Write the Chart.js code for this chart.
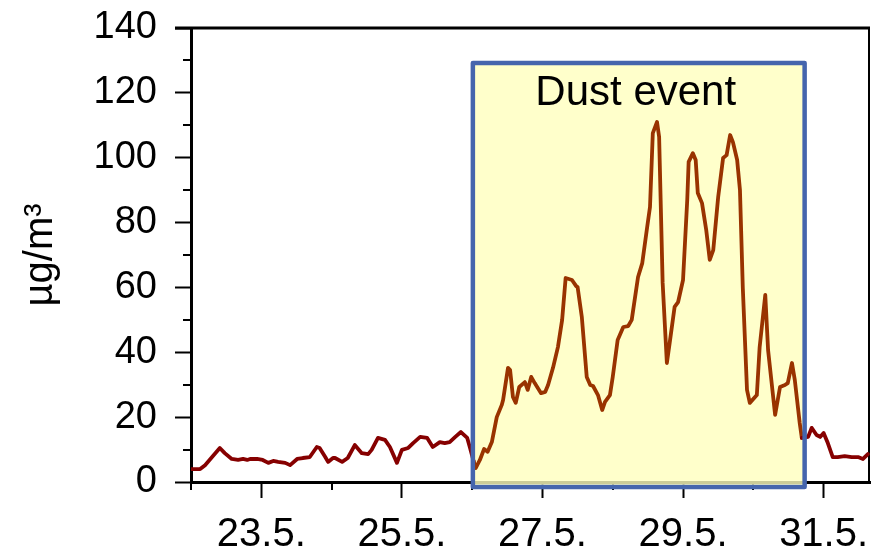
<!DOCTYPE html>
<html>
<head>
<meta charset="utf-8">
<script src="https://cdn.jsdelivr.net/npm/chart.js@4.4.1/dist/chart.umd.min.js"></script>
<style>
html, body { margin: 0; padding: 0; background: #fff; }
canvas { display: block; }
</style>
</head>
<body>
<canvas id="chart" width="871" height="555"></canvas>
<script>
// days of May, concentration in µg/m3
const preDays = [22.00, 22.13, 22.20, 22.30, 22.41, 22.48, 22.58, 22.67, 22.74, 22.80, 22.84, 22.94, 23.02, 23.10, 23.17, 23.24, 23.34, 23.41, 23.51, 23.59, 23.69, 23.79, 23.83, 23.91, 23.95, 24.02, 24.05, 24.15, 24.23, 24.33, 24.43, 24.52, 24.57, 24.66, 24.76, 24.83, 24.93, 25.00, 25.09, 25.16, 25.26, 25.36, 25.44, 25.54, 25.61, 25.68, 25.76, 25.84, 25.93, 25.97, 26.02]
const preConc = [4.0, 4.0, 5.2, 7.7, 10.5, 8.9, 7.1, 6.8, 7.1, 6.8, 7.1, 7.1, 6.8, 5.9, 6.5, 6.2, 5.9, 5.2, 7.1, 7.4, 7.7, 10.8, 10.5, 7.7, 6.2, 7.4, 7.4, 6.2, 7.4, 11.4, 8.9, 8.6, 9.9, 13.6, 13.0, 10.8, 5.9, 9.9, 10.5, 12.0, 13.9, 13.6, 10.8, 12.3, 12.0, 12.3, 13.9, 15.4, 13.6, 10.5, 6.5]

const dustDays = [26.02, 26.05, 26.11, 26.17, 26.22, 26.28, 26.35, 26.42, 26.44, 26.51, 26.54, 26.58, 26.62, 26.67, 26.75, 26.79, 26.84, 26.89, 26.98, 27.04, 27.08, 27.15, 27.22, 27.28, 27.33, 27.42, 27.48, 27.50, 27.56, 27.63, 27.68, 27.72, 27.79, 27.85, 27.89, 27.96, 28.00, 28.07, 28.15, 28.22, 28.27, 28.36, 28.42, 28.49, 28.53, 28.57, 28.63, 28.66, 28.71, 28.77, 28.81, 28.88, 28.93, 29.00, 29.06, 29.08, 29.14, 29.18, 29.21, 29.27, 29.33, 29.38, 29.43, 29.50, 29.57, 29.62, 29.67, 29.71, 29.77, 29.81, 29.85, 29.91, 29.95, 30.05, 30.09, 30.17, 30.21, 30.31, 30.38, 30.45, 30.49, 30.55, 30.59, 30.66, 30.69]
const dustConc = [6.5, 4.3, 6.8, 10.2, 9.3, 12.3, 20.0, 23.7, 25.3, 35.2, 34.5, 26.2, 24.4, 29.3, 30.8, 28.4, 32.4, 30.5, 27.4, 27.8, 29.9, 35.2, 41.6, 50.0, 62.9, 62.3, 60.4, 60.1, 50.9, 32.4, 29.9, 29.6, 26.8, 22.2, 24.7, 26.8, 32.4, 43.8, 47.8, 48.1, 50.0, 63.2, 67.5, 78.6, 84.8, 107.6, 111.0, 106.4, 61.4, 36.7, 42.9, 54.0, 55.5, 62.3, 87.0, 98.7, 101.4, 99.3, 89.1, 86.0, 77.7, 68.5, 71.5, 87.9, 99.9, 100.8, 107.0, 104.8, 99.3, 90.0, 60.1, 28.4, 24.4, 26.8, 41.6, 57.7, 40.7, 20.7, 29.3, 29.9, 30.5, 36.7, 31.5, 18.2, 13.6]

const postDays = [30.69, 30.78, 30.83, 30.90, 30.95, 31.00, 31.06, 31.13, 31.20, 31.30, 31.40, 31.49, 31.56, 31.63]
const postConc = [13.6, 13.9, 16.7, 14.5, 13.9, 15.1, 12.0, 7.7, 7.7, 8.0, 7.7, 7.7, 7.1, 8.6]

const majorDays = [23, 25, 27, 29, 31]
const minorDays = [22, 24, 26, 28, 30]
const majorConc = [0, 20, 40, 60, 80, 100, 120, 140]
const minorConc = [10, 30, 50, 70, 90, 110, 130]

const eventStart = 26.01
const eventEnd = 30.73
const eventLabel = 'Dust event'

const toPoints = (xs, ys) => xs.map((d, i) => ({ x: d, y: ys[i] }))
const FONT = '"Liberation Sans", Arial, sans-serif'

const frame = {
	id: 'frame',
	beforeDatasetsDraw(chart) {
		const { ctx, chartArea: a, scales: { x, y } } = chart
		ctx.save()
		ctx.strokeStyle = '#000'
		ctx.lineWidth = 2
		ctx.beginPath()
		minorConc.forEach(v => {
			const py = Math.round(y.getPixelForValue(v))
			ctx.moveTo(a.left, py)
			ctx.lineTo(a.left - 8, py)
		})
		minorDays.forEach(d => {
			const px = Math.round(x.getPixelForValue(d))
			ctx.moveTo(px, a.bottom)
			ctx.lineTo(px, a.bottom + 8)
		})
		ctx.stroke()
		ctx.lineWidth = 3
		ctx.beginPath()
		ctx.moveTo(a.left - 16, a.top)
		ctx.lineTo(a.right, a.top)
		ctx.stroke()
		ctx.lineWidth = 2
		ctx.beginPath()
		ctx.moveTo(a.right - 1, a.top)
		ctx.lineTo(a.right - 1, a.bottom)
		ctx.stroke()

		// event shading
		const l = x.getPixelForValue(eventStart)
		const r = x.getPixelForValue(eventEnd)
		const t = y.getPixelForValue(129.2)
		const b = a.bottom + 5
		ctx.fillStyle = 'rgba(255,255,190,0.8)'
		ctx.fillRect(l, t, r - l, b - t)
		ctx.restore()
	},
	afterDatasetsDraw(chart) {
		const { ctx, chartArea: a, scales: { x, y } } = chart
		const l = x.getPixelForValue(eventStart)
		const r = x.getPixelForValue(eventEnd)
		const t = y.getPixelForValue(129.2)
		const b = a.bottom + 5
		ctx.save()
		ctx.strokeStyle = '#4565ad'
		ctx.lineWidth = 4.5
		ctx.lineJoin = 'round'
		ctx.strokeRect(l, t, r - l, b - t)
		ctx.fillStyle = '#000'
		ctx.font = '42px ' + FONT
		ctx.textAlign = 'center'
		ctx.textBaseline = 'alphabetic'
		ctx.fillText(eventLabel, (l + r) / 2 - 3, t + 42)
		ctx.restore()
	}
}

const lineStyle = { borderWidth: 3.8, pointRadius: 0, tension: 0, borderJoinStyle: 'round', borderCapStyle: 'round' }

new Chart(document.getElementById('chart'), {
	type: 'line',
	data: {
		datasets: [
			{ ...lineStyle, data: toPoints(preDays, preConc), borderColor: '#860000' },
			{ ...lineStyle, data: toPoints(postDays, postConc), borderColor: '#860000' },
			{ ...lineStyle, data: toPoints(dustDays, dustConc), borderColor: '#993300' }
		]
	},
	options: {
		responsive: false,
		animation: false,
		events: [],
		layout: { padding: { top: 28, right: 1, left: 0, bottom: 0 } },
		plugins: { legend: { display: false }, tooltip: { enabled: false } },
		scales: {
			x: {
				type: 'linear',
				min: 22,
				max: 31.66,
				afterBuildTicks: axis => { axis.ticks = majorDays.map(v => ({ value: v })) },
				afterFit: axis => {
					axis.height = 73
					axis.paddingLeft = 0
					axis.paddingRight = 0
				},
				border: { display: true, color: '#000', width: 3 },
				grid: { drawOnChartArea: false, drawTicks: true, tickLength: 16, tickWidth: 2, tickColor: '#000' },
				ticks: {
					color: '#000',
					font: { family: FONT, size: 40 },
					padding: 13,
					maxRotation: 0,
					callback: v => v + '.5.'
				}
			},
			y: {
				min: 0,
				max: 140,
				afterBuildTicks: axis => { axis.ticks = majorConc.map(v => ({ value: v })) },
				afterFit: axis => {
					axis.width = 191
					axis.paddingTop = 0
					axis.paddingBottom = 0
				},
				border: { display: true, color: '#000', width: 3 },
				grid: { drawOnChartArea: false, drawTicks: true, tickLength: 16, tickWidth: 2, tickColor: '#000' },
				ticks: {
					color: '#000',
					font: { family: FONT, size: 38 },
					padding: 18
				},
				title: {
					display: true,
					text: 'µg/m³',
					color: '#000',
					font: { family: FONT, size: 40 },
					padding: { top: 17, bottom: 0 }
				}
			}
		}
	},
	plugins: [frame]
})
</script>
</body>
</html>
